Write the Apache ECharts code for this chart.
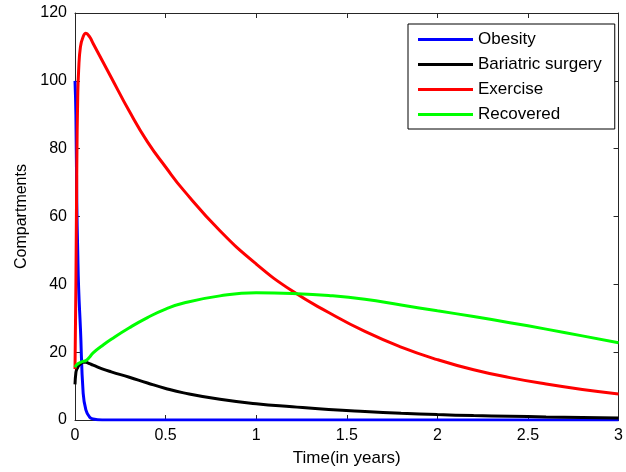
<!DOCTYPE html>
<html>
<head>
<meta charset="utf-8">
<script src="https://cdn.jsdelivr.net/npm/echarts@6/dist/echarts.min.js"></script>
<style>
html,body{margin:0;padding:0;background:#fff;}
#chart{width:626px;height:472px;}
</style>
</head>
<body>
<div id="chart"></div>
<script>
// Time samples (years)
var time = [0, 0.005, 0.01, 0.015, 0.02, 0.03, 0.045, 0.06, 0.08, 0.1, 0.15, 0.2, 0.3, 0.4, 0.5, 0.6, 0.8, 1.0, 1.2, 1.4, 1.6, 1.8, 2.0, 2.2, 2.4, 2.6, 2.8, 3.0];
var obesity = [100, 90, 64, 50, 39, 27, 8, 3, 0.9, 0.3, 0, 0, 0, 0, 0, 0, 0, 0, 0, 0, 0, 0, 0, 0, 0, 0, 0, 0];
var bariatric = [10.5, 14, 15, 15.5, 16, 16.5, 17, 17, 16.6, 16.2, 15.1, 14.2, 12.6, 10.9, 9.3, 8.0, 6.1, 4.8, 3.9, 3.1, 2.5, 2.0, 1.6, 1.3, 1.1, 0.9, 0.75, 0.6];
var exercise = [15, 40, 75, 95, 103, 110, 113, 114, 113, 111, 106, 101, 91, 82, 74.6, 67.7, 55.8, 46, 38, 31.7, 26.1, 21.5, 17.8, 14.8, 12.5, 10.6, 9.0, 7.7];
var recovered = [15.5, 16, 16.3, 16.5, 16.7, 17, 17.3, 17.5, 18.5, 19.8, 21.9, 23.8, 27.2, 30.2, 32.7, 34.5, 36.6, 37.5, 37.3, 36.7, 35.6, 33.9, 32.2, 30.5, 28.7, 26.8, 24.8, 22.8];
var seriesNames = ['Obesity', 'Bariatric surgery', 'Exercise', 'Recovered'];
var seriesColors = ['#0000ff', '#000000', '#ff0000', '#00ff00'];
var xTicks = {min: 0, max: 3, interval: 0.5};
var yTicks = {min: 0, max: 120, interval: 20};

function zip(t, v) { return t.map(function (x, i) { return [x, v[i]]; }); }
var allValues = [obesity, bariatric, exercise, recovered];

var font = 'Liberation Sans, Arial, Helvetica, sans-serif';
var axisCol = '#262626';
function axisBase(extra) {
  var a = {
    type: 'value',
    splitLine: {show: false},
    axisLine: {show: true, onZero: false, lineStyle: {color: axisCol, width: 1}},
    axisTick: {show: true, inside: true, length: 5, lineStyle: {color: axisCol}},
    axisLabel: {color: '#000', fontFamily: font, fontSize: 16}
  };
  for (var k in extra) a[k] = extra[k];
  return a;
}

var chart = echarts.init(document.getElementById('chart'), null, {renderer: 'canvas'});
chart.setOption({
  animation: false,
  backgroundColor: '#fff',
  grid: {left: 75, right: 3, top: 13, bottom: 51, containLabel: false},
  legend: {
    data: seriesNames,
    orient: 'vertical',
    left: 408, top: 24,
    padding: [7, 13, 6, 10],
    itemGap: 8,
    itemWidth: 55, itemHeight: 3,
    icon: 'rect',
    backgroundColor: '#fff',
    borderColor: '#000', borderWidth: 1,
    borderRadius: 0,
    textStyle: {color: '#000', fontFamily: font, fontSize: 17, lineHeight: 17}
  },
  xAxis: [
    axisBase({min: xTicks.min, max: xTicks.max, interval: xTicks.interval, position: 'bottom',
      name: 'Time(in years)', nameLocation: 'middle', nameGap: 30,
      nameTextStyle: {color: '#000', fontFamily: font, fontSize: 17},
      axisLabel: {color: '#000', fontFamily: font, fontSize: 16, margin: 8}}),
    axisBase({min: xTicks.min, max: xTicks.max, interval: xTicks.interval, position: 'top',
      axisLabel: {show: false}})
  ],
  yAxis: [
    axisBase({min: yTicks.min, max: yTicks.max, interval: yTicks.interval, position: 'left',
      name: 'Compartments', nameLocation: 'middle', nameGap: 44,
      nameTextStyle: {color: '#000', fontFamily: font, fontSize: 16},
      axisLabel: {color: '#000', fontFamily: font, fontSize: 16, margin: 8}}),
    axisBase({min: yTicks.min, max: yTicks.max, interval: yTicks.interval, position: 'right',
      axisLabel: {show: false}})
  ],
  series: seriesNames.map(function (n, i) {
    return {
      name: n, type: 'line', xAxisIndex: 0, yAxisIndex: 0,
      data: zip(time, allValues[i]),
      showSymbol: false, symbol: 'none',
      smooth: 0.5,
      lineStyle: {color: seriesColors[i], width: 3},
      itemStyle: {color: seriesColors[i]},
      z: 2 + i
    };
  })
});
</script>
</body>
</html>
